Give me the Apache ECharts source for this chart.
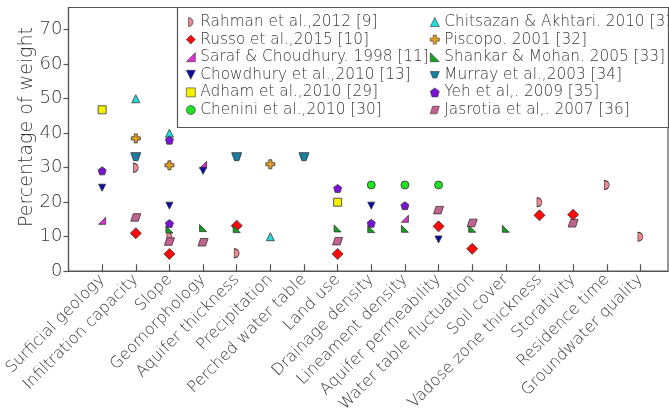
<!DOCTYPE html>
<html>
<head>
<meta charset="utf-8">
<script src="https://cdn.jsdelivr.net/npm/echarts@6/dist/echarts.min.js"></script>
<style>
  html, body { margin: 0; padding: 0; background: #ffffff; }
  #chart { width: 669px; height: 415px; }
</style>
</head>
<body>
<div id="chart"></div>
<script>
// Hydro-geological factors (x axis, in order)
const categories = [
  "Surficial geology", "Infiltration capacity", "Slope", "Geomorphology",
  "Aquifer thickness", "Precipitation", "Perched water table", "Land use",
  "Drainage density", "Lineament density", "Aquifer permeability",
  "Water table fluctuation", "Soil cover", "Vadose zone thickness",
  "Storativity", "Residence time", "Groundwater quality"
];

const yTicks = [0, 10, 20, 30, 40, 50, 60, 70];

// Weight (%) given to each factor by each study: [factor, weight]
const rahman = [["Infiltration capacity", 30], ["Slope", 10], ["Aquifer thickness", 5.2],
  ["Vadose zone thickness", 20], ["Residence time", 25], ["Groundwater quality", 10]];
const russo = [["Infiltration capacity", 11], ["Slope", 5], ["Aquifer thickness", 13.2],
  ["Land use", 5], ["Aquifer permeability", 13], ["Water table fluctuation", 6.5],
  ["Vadose zone thickness", 16.2], ["Storativity", 16.4]];
const saraf = [["Surficial geology", 14.6], ["Geomorphology", 30.8], ["Lineament density", 15.2]];
const chowdhury = [["Surficial geology", 24.2], ["Slope", 19], ["Geomorphology", 29.1],
  ["Drainage density", 19], ["Aquifer permeability", 9.2]];
const adham = [["Surficial geology", 46.8], ["Land use", 20]];
const chenini = [["Drainage density", 25], ["Lineament density", 25], ["Aquifer permeability", 25]];
const chitsazan = [["Infiltration capacity", 50], ["Slope", 40], ["Precipitation", 10]];
const piscopo = [["Infiltration capacity", 38.5], ["Slope", 30.7], ["Precipitation", 31]];
const shankar = [["Slope", 12.1], ["Geomorphology", 12.5], ["Aquifer thickness", 12.2],
  ["Land use", 12.4], ["Drainage density", 12.2], ["Lineament density", 12.3],
  ["Water table fluctuation", 12.3], ["Soil cover", 12.3]];
const murray = [["Infiltration capacity", 33.2], ["Aquifer thickness", 33.2], ["Perched water table", 33.2]];
const yeh = [["Surficial geology", 29.1], ["Slope", 38], ["Slope", 13.8], ["Land use", 24],
  ["Drainage density", 13.9], ["Lineament density", 19]];
const jasrotia = [["Infiltration capacity", 15.6], ["Slope", 8.6], ["Geomorphology", 8.4],
  ["Land use", 8.7], ["Aquifer permeability", 17.7], ["Water table fluctuation", 14],
  ["Storativity", 13.9]];

// Marker shapes
const SHAPES = {
  half: 'path://M0,0 A10,10 0 0 1 0,20 Z',
  rightTriUp: 'path://M10,0 L10,10 L0,10 Z',
  downTri: 'path://M0,0 L10,0 L5,10 Z',
  plus: 'path://M3.3,0 H6.7 V3.3 H10 V6.7 H6.7 V10 H3.3 V6.7 H0 V3.3 H3.3 Z',
  leftTri: 'path://M0,0 L0,10 L10,10 Z',
  trap: 'path://M0,0 L14,0 L10,10 L4,10 Z',
  penta: 'path://M5,0 L10,3.8 L8.1,10 L1.9,10 L0,3.8 Z',
  para: 'path://M3,0 L12,0 L9,10 L0,10 Z'
};

const studies = [
  { name: "Rahman et al.,2012 [9]", data: rahman, symbol: SHAPES.half, size: [5, 9], color: "#ee8890" },
  { name: "Russo et al.,2015 [10]", data: russo, symbol: 'diamond', size: [11, 11], color: "#ff0a0a" },
  { name: "Saraf & Choudhury. 1998 [11]", data: saraf, symbol: SHAPES.rightTriUp, size: [7, 7], color: "#e030d8" },
  { name: "Chowdhury et al.,2010 [13]", data: chowdhury, symbol: SHAPES.downTri, size: [7, 7], color: "#0a0aa8" },
  { name: "Adham et al.,2010 [29]", data: adham, symbol: 'rect', size: [8, 8], color: "#f5f000" },
  { name: "Chenini et al.,2010 [30]", data: chenini, symbol: 'circle', size: [8, 8], color: "#22e022" },
  { name: "Chitsazan & Akhtari. 2010 [31]", data: chitsazan, symbol: 'triangle', size: [8, 8], color: "#22dcdc" },
  { name: "Piscopo. 2001 [32]", data: piscopo, symbol: SHAPES.plus, size: [9, 9], color: "#e8a020" },
  { name: "Shankar & Mohan. 2005 [33]", data: shankar, symbol: SHAPES.leftTri, size: [7, 7], color: "#16a020" },
  { name: "Murray et al.,2003 [34]", data: murray, symbol: SHAPES.trap, size: [10, 8], color: "#1a7ea2" },
  { name: "Yeh et al,. 2009 [35]", data: yeh, symbol: SHAPES.penta, size: [8, 8], color: "#7a14d4" },
  { name: "Jasrotia et al,. 2007 [36]", data: jasrotia, symbol: SHAPES.para, size: [10, 7.5], color: "#c46290" }
];

const FONT = '"DejaVu Sans", sans-serif';
const WEIGHT = 200;
const INK = '#383838';
const AXIS = '#555555';
const catTicks = categories.map((c, i) => i + 1);

const series = studies.map(s => ({
  name: s.name,
  type: 'scatter',
  symbol: s.symbol,
  symbolSize: s.size,
  itemStyle: { color: s.color, borderColor: '#333333', borderWidth: 0.8, opacity: 1 },
  emphasis: { disabled: true },
  data: s.data.map(([cat, v]) => [categories.indexOf(cat) + 1, v])
}));

const legendBase = {
  orient: 'vertical',
  top: 14,
  padding: 0,
  itemGap: 1.6,
  itemWidth: 9,
  itemHeight: 9,
  itemStyle: { borderColor: '#333333', borderWidth: 0.6 },
  selectedMode: false,
  textStyle: { fontFamily: FONT, fontWeight: WEIGHT, fontSize: 15.3, color: INK, lineHeight: 16 }
};

const chart = echarts.init(document.getElementById('chart'), null, { renderer: 'canvas' });
chart.setOption({
  animation: false,
  backgroundColor: '#ffffff',
  grid: {
    left: 68.5, right: 1, top: 7.5, bottom: 141,
    show: true, borderColor: AXIS, borderWidth: 1.2, backgroundColor: 'transparent'
  },
  xAxis: {
    type: 'value',
    min: 0, max: 17.82, interval: 1,
    axisLine: { show: true, lineStyle: { color: AXIS, width: 1.2 } },
    axisTick: { show: true, inside: true, length: 7, customValues: catTicks, lineStyle: { color: AXIS, width: 1.2 } },
    axisLabel: {
      customValues: catTicks,
      rotate: 45, margin: 6,
      fontFamily: FONT, fontWeight: WEIGHT, fontSize: 16, color: INK,
      formatter: v => categories[Math.round(v) - 1] || ''
    },
    splitLine: { show: false }
  },
  yAxis: {
    type: 'value',
    min: 0, max: 76.45, interval: 10,
    axisLine: { show: true, lineStyle: { color: AXIS, width: 1.2 } },
    axisTick: { show: true, inside: false, length: 5, customValues: yTicks, lineStyle: { color: AXIS, width: 1.2 } },
    axisLabel: {
      customValues: yTicks, margin: 6,
      fontFamily: FONT, fontWeight: WEIGHT, fontSize: 18, color: INK
    },
    splitLine: { show: false }
  },
  legend: [
    Object.assign({}, legendBase, { left: 186, data: studies.slice(0, 6).map(s => s.name) }),
    Object.assign({}, legendBase, { left: 430, data: studies.slice(6).map(s => s.name) })
  ],
  graphic: [
    {
      type: 'rect', z: 0,
      shape: { x: 177.5, y: 7.5, width: 491, height: 120 },
      style: { fill: '#ffffff', stroke: AXIS, lineWidth: 1.2 }
    },
    {
      type: 'text',
      x: 27, y: 127, rotation: Math.PI / 2,
      style: {
        text: 'Percentage of weight',
        font: WEIGHT + ' 19px "DejaVu Sans", sans-serif',
        fill: INK, align: 'center', verticalAlign: 'middle'
      }
    }
  ],
  series: series
});
</script>
</body>
</html>
